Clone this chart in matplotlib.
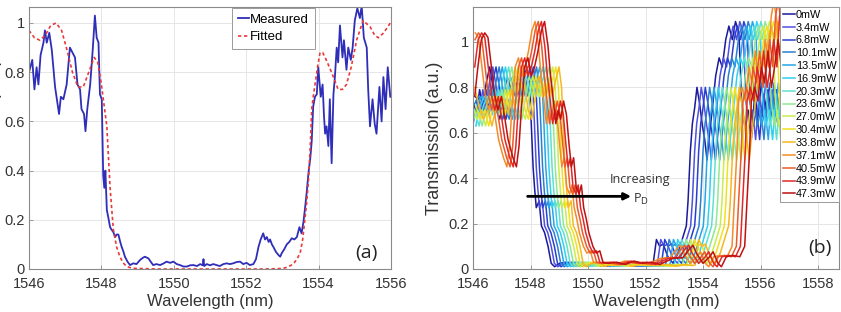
import numpy as np
import matplotlib
matplotlib.use("Agg")
import matplotlib.pyplot as plt

# panel (a): measured transmission
meas_wl = [1546.00, 1546.09, 1546.15, 1546.21, 1546.26, 1546.32, 1546.40, 1546.44, 1546.49, 1546.56,
           1546.63, 1546.72, 1546.76, 1546.83, 1546.88, 1546.95, 1547.04, 1547.13, 1547.20, 1547.27,
           1547.34, 1547.41, 1547.45, 1547.52, 1547.56, 1547.61, 1547.69, 1547.76, 1547.82, 1547.87,
           1547.92, 1547.96, 1548.01, 1548.05, 1548.08, 1548.11, 1548.15, 1548.19, 1548.24, 1548.28,
           1548.33, 1548.38, 1548.42, 1548.47, 1548.52, 1548.56, 1548.61, 1548.65, 1548.72, 1548.79,
           1548.88, 1548.97, 1549.07, 1549.14, 1549.20, 1549.30, 1549.36, 1549.43, 1549.52, 1549.62,
           1549.71, 1549.80, 1549.90, 1549.99, 1550.08, 1550.17, 1550.27, 1550.36, 1550.45, 1550.54,
           1550.64, 1550.73, 1550.80, 1550.82, 1550.84, 1550.91, 1551.00, 1551.09, 1551.18, 1551.27,
           1551.37, 1551.46, 1551.55, 1551.64, 1551.73, 1551.83, 1551.92, 1552.01, 1552.10, 1552.20,
           1552.27, 1552.34, 1552.40, 1552.47, 1552.52, 1552.57, 1552.62, 1552.66, 1552.71, 1552.75,
           1552.82, 1552.89, 1552.94, 1552.98, 1553.05, 1553.12, 1553.19, 1553.26, 1553.33, 1553.40,
           1553.47, 1553.53, 1553.58, 1553.62, 1553.67, 1553.72, 1553.77, 1553.81, 1553.85, 1553.90,
           1553.95, 1553.99, 1554.06, 1554.11, 1554.15, 1554.18, 1554.22, 1554.27, 1554.31, 1554.36,
           1554.41, 1554.45, 1554.50, 1554.54, 1554.59, 1554.66, 1554.70, 1554.77, 1554.82, 1554.89,
           1554.94, 1555.00, 1555.07, 1555.14, 1555.19, 1555.25, 1555.33, 1555.37, 1555.42, 1555.49,
           1555.55, 1555.60, 1555.68, 1555.74, 1555.79, 1555.85, 1555.91, 1555.98]
meas_T = [0.80, 0.85, 0.73, 0.82, 0.75, 0.87, 0.92, 0.97, 0.92, 0.96,
          0.89, 0.74, 0.70, 0.63, 0.70, 0.69, 0.75, 0.90, 0.88, 0.86,
          0.75, 0.73, 0.65, 0.63, 0.56, 0.65, 0.75, 0.89, 1.03, 0.94,
          0.92, 0.71, 0.69, 0.38, 0.33, 0.40, 0.24, 0.21, 0.17, 0.16,
          0.15, 0.13, 0.14, 0.14, 0.11, 0.09, 0.07, 0.05, 0.03, 0.016,
          0.023, 0.02, 0.037, 0.045, 0.05, 0.043, 0.03, 0.016, 0.02, 0.016,
          0.022, 0.03, 0.025, 0.03, 0.02, 0.016, 0.01, 0.01, 0.015, 0.016,
          0.012, 0.02, 0.015, 0.04, 0.012, 0.02, 0.015, 0.02, 0.016, 0.012,
          0.02, 0.023, 0.02, 0.023, 0.028, 0.03, 0.02, 0.025, 0.016, 0.02,
          0.04, 0.09, 0.12, 0.145, 0.12, 0.13, 0.11, 0.12, 0.10, 0.09,
          0.07, 0.057, 0.05, 0.064, 0.08, 0.10, 0.11, 0.125, 0.12, 0.13,
          0.17, 0.145, 0.19, 0.24, 0.31, 0.39, 0.45, 0.52, 0.66, 0.70,
          0.71, 0.82, 0.70, 0.75, 0.62, 0.55, 0.58, 0.50, 0.69, 0.43,
          0.71, 0.78, 0.90, 0.84, 0.99, 0.86, 0.93, 0.81, 0.90, 0.85,
          0.90, 1.01, 1.06, 1.02, 1.07, 0.94, 0.90, 0.73, 0.58, 0.69,
          0.59, 0.55, 0.74, 0.60, 0.78, 0.65, 0.82, 0.70]

# panel (a): fitted curve
fit_wl = [1546.00, 1546.15, 1546.30, 1546.45, 1546.60, 1546.75, 1546.90, 1547.05, 1547.20, 1547.35,
          1547.50, 1547.65, 1547.80, 1547.90, 1548.00, 1548.08, 1548.15, 1548.24, 1548.33, 1548.42,
          1548.51, 1548.60, 1548.70, 1548.85, 1549.5, 1550.5, 1551.5, 1552.5, 1553.0, 1553.15,
          1553.30, 1553.40, 1553.49, 1553.56, 1553.62, 1553.67, 1553.72, 1553.77, 1553.81, 1553.86,
          1553.90, 1553.97, 1554.04, 1554.11, 1554.18, 1554.30, 1554.41, 1554.54, 1554.66, 1554.77,
          1554.90, 1555.05, 1555.23, 1555.42, 1555.55, 1555.65, 1555.80, 1555.98]
fit_T = [0.97, 0.94, 0.93, 0.95, 0.99, 1.00, 0.97, 0.89, 0.80, 0.74,
         0.74, 0.80, 0.86, 0.84, 0.75, 0.66, 0.58, 0.33, 0.16, 0.09,
         0.05, 0.025, 0.01, 0.003, 0.0, 0.0, 0.0, 0.0, 0.002, 0.008,
         0.02, 0.04, 0.064, 0.12, 0.20, 0.27, 0.36, 0.50, 0.65, 0.71,
         0.75, 0.82, 0.88, 0.88, 0.86, 0.82, 0.78, 0.73, 0.73, 0.75,
         0.82, 0.93, 1.01, 0.985, 0.95, 0.94, 0.96, 1.00]

# panel (b): coldest trace (0mW)
cold_wl = [1544.30, 1544.45, 1544.60, 1544.70, 1544.80, 1544.95, 1545.10, 1545.25, 1545.40, 1545.55,
           1545.70, 1545.85,
           1546.00, 1546.12, 1546.23, 1546.35, 1546.46, 1546.58, 1546.70, 1546.81, 1546.93, 1547.04,
           1547.18, 1547.30, 1547.41, 1547.53, 1547.65, 1547.76, 1547.88, 1547.97, 1548.03, 1548.09,
           1548.14, 1548.20, 1548.30, 1548.38, 1548.49, 1548.61, 1548.72, 1548.84, 1549.01, 1549.25,
           1549.48, 1549.70, 1549.95, 1550.20, 1550.45, 1550.70, 1551.00, 1551.30, 1551.60, 1551.90,
           1552.15, 1552.26, 1552.38, 1552.49, 1552.61, 1552.78, 1552.96, 1553.13, 1553.30, 1553.42,
           1553.48, 1553.56, 1553.63, 1553.71, 1553.79, 1553.88, 1553.98, 1554.06, 1554.14, 1554.23,
           1554.32, 1554.44, 1554.56, 1554.67, 1554.79, 1554.90, 1555.02, 1555.13, 1555.25, 1555.34,
           1555.45, 1555.57, 1555.68, 1555.80, 1555.91, 1556.03, 1556.14, 1556.26, 1556.38, 1556.49,
           1556.61, 1556.72, 1556.84, 1556.95]
cold_T = [0.80, 0.92, 1.00, 0.95, 0.88, 0.80, 0.72, 0.66, 0.70, 0.63,
          0.72, 0.76,
          0.74, 0.68, 0.79, 0.71, 0.82, 0.89, 0.80, 0.70, 0.66, 0.74,
          0.85, 0.80, 0.76, 0.82, 0.76, 0.83, 0.89, 0.80, 0.63, 0.45,
          0.36, 0.27, 0.30, 0.19, 0.16, 0.10, 0.025, 0.01, 0.025, 0.03,
          0.012, 0.02, 0.015, 0.025, 0.012, 0.02, 0.015, 0.02, 0.012, 0.02,
          0.015, 0.018, 0.13, 0.10, 0.11, 0.054, 0.025, 0.07, 0.14, 0.19,
          0.30, 0.52, 0.64, 0.71, 0.80, 0.73, 0.63, 0.57, 0.48, 0.60,
          0.70, 0.85, 0.93, 0.89, 1.01, 1.07, 1.01, 1.09, 1.04, 0.74,
          0.63, 0.70, 0.57, 0.77, 0.67, 0.82, 0.70, 0.79, 0.67, 0.74,
          0.63, 0.71, 0.66, 0.72]

# panel (b): hottest trace (47.3mW)
hot_wl = [1545.20, 1545.40, 1545.60, 1545.80,
          1546.06, 1546.17, 1546.29, 1546.41, 1546.52, 1546.64, 1546.75, 1546.87, 1546.99, 1547.10,
          1547.22, 1547.39, 1547.51, 1547.60, 1547.68, 1547.80, 1547.91, 1548.03, 1548.14, 1548.26,
          1548.38, 1548.49, 1548.61, 1548.69, 1548.78, 1548.88, 1548.96, 1549.05, 1549.15, 1549.25,
          1549.34, 1549.42, 1549.50, 1549.59, 1549.69, 1549.77, 1549.85, 1549.94, 1550.03, 1550.17,
          1550.29, 1550.41, 1550.52, 1550.70, 1551.00, 1551.30, 1551.60, 1551.90, 1552.20, 1552.50,
          1552.75, 1552.96, 1553.30, 1553.54, 1553.65, 1553.77, 1554.00, 1554.23, 1554.35, 1554.52,
          1554.64, 1554.81, 1555.04, 1555.28, 1555.45, 1555.53, 1555.62, 1555.68, 1555.80, 1555.91,
          1556.03, 1556.14, 1556.26, 1556.38, 1556.49, 1556.61, 1556.72, 1556.81, 1556.90, 1557.00,
          1557.10, 1557.20, 1557.35, 1557.50]
hot_T = [0.70, 0.62, 0.75, 0.66,
         0.76, 0.89, 1.01, 1.04, 1.02, 0.89, 0.77, 0.70, 0.76, 0.67,
         0.57, 0.49, 0.45, 0.54, 0.70, 0.89, 0.93, 0.85, 0.89, 0.96,
         1.05, 1.09, 0.98, 0.86, 0.76, 0.64, 0.70, 0.66, 0.74, 0.68,
         0.55, 0.45, 0.49, 0.36, 0.33, 0.37, 0.27, 0.22, 0.16, 0.10,
         0.07, 0.08, 0.03, 0.025, 0.03, 0.02, 0.035, 0.025, 0.03, 0.02,
         0.035, 0.047, 0.05, 0.09, 0.105, 0.07, 0.025, 0.054, 0.076, 0.025,
         0.01, 0.054, 0.06, 0.054, 0.10, 0.30, 0.52, 0.74, 0.80, 0.74,
         0.89, 0.82, 0.96, 0.80, 0.89, 1.01, 0.89, 1.11, 1.18, 1.10,
         0.95, 1.05, 0.90, 1.00]

powers = ["0mW", "3.4mW", "6.8mW", "10.1mW", "13.5mW", "16.9mW", "20.3mW", "23.6mW",
          "27.0mW", "30.4mW", "33.8mW", "37.1mW", "40.5mW", "43.9mW", "47.3mW"]
# band-edge shifts relative to 0mW (nm)
left_shift = [0.0, 0.11, 0.22, 0.33, 0.44, 0.55, 0.66, 0.77, 0.89, 1.00, 1.11, 1.22, 1.33, 1.44, 1.55]
right_shift = [0.0, 0.15, 0.29, 0.44, 0.59, 0.74, 0.88, 1.03, 1.18, 1.32, 1.47, 1.62, 1.77, 1.91, 2.06]

colors = ["#1a1a9a", "#5050e0", "#2a3fd0", "#2a7fd0", "#25a5e8", "#30d0f0", "#5ee0d0", "#90e890",
          "#c8ec50", "#f0e020", "#f5b820", "#f58a2a", "#ea5a2a", "#e02828", "#c01010"]

TXT = "#333333"
plt.rcParams["font.family"] = ["Liberation Sans", "DejaVu Sans"]
plt.rcParams["xtick.direction"] = "in"
plt.rcParams["ytick.direction"] = "in"

fig = plt.figure(figsize=(8.41, 3.12), dpi=100)
ax1 = fig.add_axes([29 / 841, 1 - 269 / 312, 362 / 841, 262 / 312])
ax2 = fig.add_axes([473 / 841, 1 - 269 / 312, 366 / 841, 262 / 312])


def style_axes(ax):
    ax.grid(True, color="#e6e6e6", linewidth=0.7)
    ax.set_axisbelow(True)
    for s in ax.spines.values():
        s.set_color("#8a8a8a")
        s.set_linewidth(0.8)
    ax.tick_params(labelsize=10.5, labelcolor=TXT, color="#8a8a8a", length=3, width=0.6)
    ax.tick_params(axis="x", pad=6)
    ax.tick_params(axis="y", pad=3)


# ---- panel (a)
ax1.plot(meas_wl, meas_T, color="#2e2eb8", lw=1.3, label="Measured")
ax1.plot(fit_wl, fit_T, color="#e83a3a", lw=1.2, ls=(0, (2, 1.6)), label="Fitted")
ax1.set_xlim(1546, 1556)
ax1.set_ylim(0, 1.065)
ax1.set_xticks([1546, 1548, 1550, 1552, 1554, 1556])
ax1.set_yticks([0, 0.2, 0.4, 0.6, 0.8, 1])
ax1.set_yticklabels(["0", "0.2", "0.4", "0.6", "0.8", "1"])
ax1.set_xlabel("Wavelength (nm)", fontsize=12, color=TXT, labelpad=2)
style_axes(ax1)
leg1 = ax1.legend(loc="upper right", bbox_to_anchor=(0.79, 0.997), fontsize=9.5,
                  handlelength=0.8, handletextpad=0.12, borderpad=0.45, labelspacing=0.4,
                  fancybox=False, framealpha=1, edgecolor="#9a9a9a", borderaxespad=0)
leg1.get_frame().set_linewidth(0.7)
ax1.text(0.964, 0.06, "(a)", transform=ax1.transAxes, ha="right", va="center",
         fontsize=14, family="Open Sans", color="#222222")
fig.text(-6 / 841, 1 - 135 / 312, "Transmission (a.u.)", rotation=90, ha="center",
         va="center", fontsize=13, color=TXT)

# ---- panel (b)
for i, (name, c) in enumerate(zip(powers, colors)):
    if i < 11:
        wl, T, mid = np.array(cold_wl), np.array(cold_T), 1551.0
        sl, sr = left_shift[i], right_shift[i]
    else:
        wl, T, mid = np.array(hot_wl), np.array(hot_T), 1552.2
        sl, sr = left_shift[i] - left_shift[-1], right_shift[i] - right_shift[-1]
    x = np.where(wl < mid, wl + sl, wl + sr)
    keep = (x >= 1545.98) & (x <= 1557.05)
    ax2.plot(x[keep], T[keep], color=c, lw=1.1, label=name)

ax2.set_xlim(1546, 1558.73)
ax2.set_ylim(0, 1.154)
ax2.set_xticks([1546, 1548, 1550, 1552, 1554, 1556, 1558])
ax2.set_yticks([0, 0.2, 0.4, 0.6, 0.8, 1])
ax2.set_yticklabels(["0", "0.2", "0.4", "0.6", "0.8", "1"])
ax2.set_xlabel("Wavelength (nm)", fontsize=12, color=TXT, labelpad=2)
ax2.set_ylabel("Transmission (a.u.)", fontsize=13, color=TXT, labelpad=4)
style_axes(ax2)
leg2 = ax2.legend(loc="upper right", fontsize=7.8, handlelength=1.1, handletextpad=0.1,
                  borderpad=0.25, labelspacing=0.26, fancybox=False, framealpha=1,
                  edgecolor="#9a9a9a", borderaxespad=0)
leg2.get_frame().set_linewidth(0.7)

ax2.annotate("", xy=(1551.5, 0.32), xytext=(1547.9, 0.32),
             arrowprops=dict(arrowstyle="-|>", color="black", lw=2.0, mutation_scale=10,
                             shrinkA=0, shrinkB=0))
ax2.text(1551.82, 0.395, "Increasing", ha="center", va="center", fontsize=9,
         family="Open Sans", color="#333333")
ax2.text(1551.55, 0.305, r"P$_{\mathrm{D}}$", ha="left", va="center", fontsize=9,
         family="Open Sans", color="#333333")
ax2.text(0.981, 0.08, "(b)", transform=ax2.transAxes, ha="right", va="center",
         fontsize=14, family="Open Sans", color="#222222")

fig.savefig("out.png", dpi=100)
